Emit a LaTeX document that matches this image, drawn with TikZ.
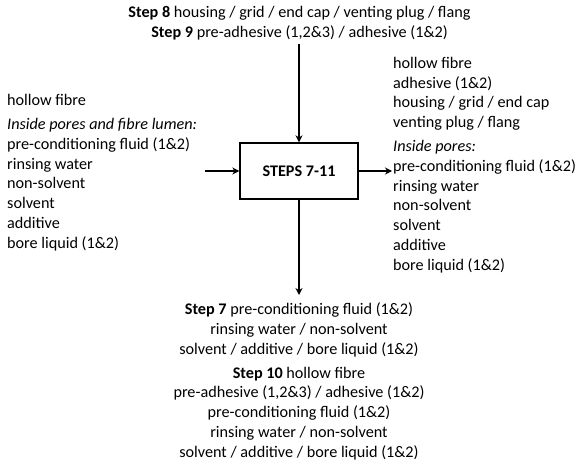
\documentclass[tikz,border=0pt]{standalone}
\usepackage{fontspec}
\setmainfont{Carlito}
\usepackage{xcolor}
\usepackage{tikz}
\usetikzlibrary{arrows.meta, positioning}

\begin{document}
\begin{tikzpicture}[
    x=1pt, y=-1pt,
    stepbox/.style={draw, line width=1.4pt, minimum width=118pt, minimum height=56pt, font=\fontsize{16.2}{19.7}\selectfont\bfseries},
    trans/.style={-{Stealth[length=7pt, width=7pt]}, line width=1.2pt},
    stream/.style={inner sep=0pt, font=\fontsize{16.2}{19.7}\selectfont},
]
\useasboundingbox (0,0) rectangle (583,463);

% Process
\node[stepbox] (steps) at (299,171) {STEPS 7-11};

% Streams (anchored at the baseline of their last line)
\node[stream, align=center, anchor=base] (topin) at (299.5,37)
    {\textbf{Step 8} housing / grid / end cap / venting plug / flang\\
     \textbf{Step 9} pre-adhesive (1,2\&3) / adhesive (1\&2)};
\node[stream, align=left, anchor=base west] (leftin) at (7,248)
    {hollow fibre\\[4.5pt]
     \textit{Inside pores and fibre lumen:}\\
     pre-conditioning fluid (1\&2)\\
     rinsing water\\
     non-solvent\\
     solvent\\
     additive\\
     bore liquid (1\&2)};
\node[stream, align=left, anchor=base west] (rightout) at (393,270)
    {hollow fibre\\
     adhesive (1\&2)\\
     housing / grid / end cap\\
     venting plug / flang\\[4.5pt]
     \textit{Inside pores:}\\
     pre-conditioning fluid (1\&2)\\
     rinsing water\\
     non-solvent\\
     solvent\\
     additive\\
     bore liquid (1\&2)};
\node[stream, align=center, anchor=base] (bottomout) at (299,457)
    {\textbf{Step 7} pre-conditioning fluid (1\&2)\\
     rinsing water / non-solvent\\
     solvent / additive / bore liquid (1\&2)\\[4.5pt]
     \textbf{Step 10} hollow fibre\\
     pre-adhesive (1,2\&3) / adhesive (1\&2)\\
     pre-conditioning fluid (1\&2)\\
     rinsing water / non-solvent\\
     solvent / additive / bore liquid (1\&2)};

% Connector ends
\coordinate (topstart) at (299,44);
\coordinate (leftstart) at (205,171);
\coordinate (rightend) at (392,171);
\coordinate (bottomend) at (299,295);

% Flows
\draw[trans] (topstart) -- (steps.north);
\draw[trans] (leftstart) -- (steps.west);
\draw[trans] (steps.east) -- (rightend);
\draw[trans] (steps.south) -- (bottomend);

\end{tikzpicture}
\end{document}
